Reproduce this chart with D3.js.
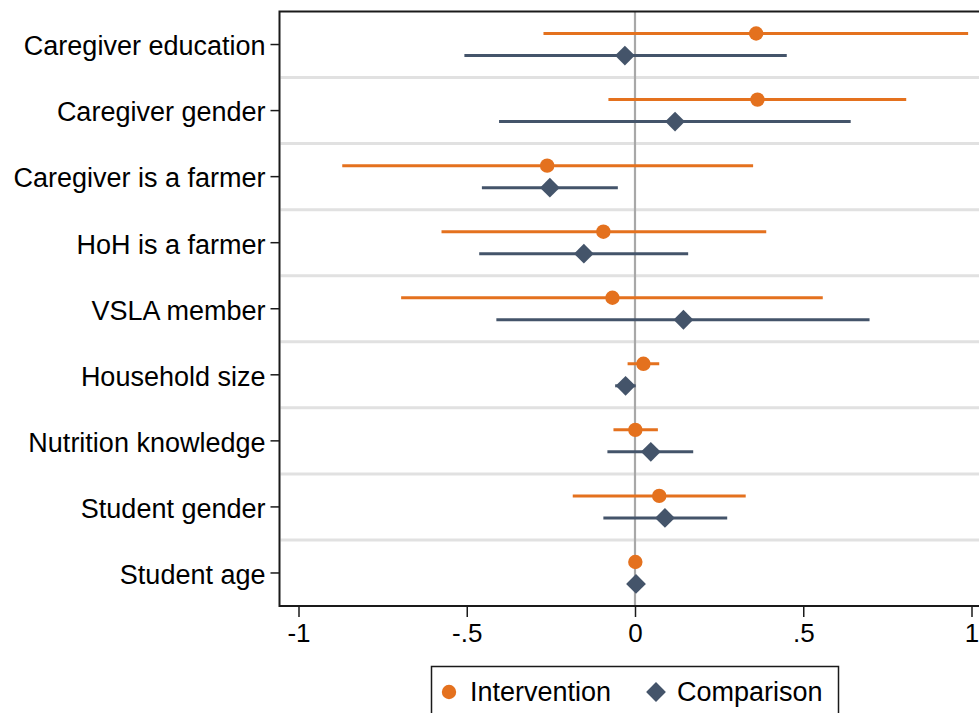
<!DOCTYPE html>
<html>
<head>
<meta charset="utf-8">
<script src="https://cdn.jsdelivr.net/npm/d3@7"></script>
<style>
  html, body { margin: 0; padding: 0; background: #fff; }
  svg { display: block; font-family: "Liberation Sans", Arial, sans-serif; }
</style>
</head>
<body>
<svg id="chart" width="979" height="713"></svg>
<script>
// Covariates, top to bottom
const categories = [
  "Caregiver education", "Caregiver gender", "Caregiver is a farmer",
  "HoH is a farmer", "VSLA member", "Household size",
  "Nutrition knowledge", "Student gender", "Student age"
];

// Intervention group: coefficient and 95% CI bounds
const interventionEst  = [0.360, 0.364, -0.261, -0.094, -0.067, 0.025, 0.001, 0.072, 0.001];
const interventionLow  = [-0.272, -0.079, -0.870, -0.575, -0.695, -0.022, -0.064, -0.185, -0.001];
const interventionHigh = [0.990, 0.806, 0.351, 0.390, 0.558, 0.072, 0.068, 0.329, 0.003];

// Comparison group: coefficient and 95% CI bounds
const comparisonEst  = [-0.030, 0.119, -0.253, -0.152, 0.144, -0.028, 0.047, 0.089, 0.003];
const comparisonLow  = [-0.507, -0.404, -0.455, -0.463, -0.412, -0.059, -0.082, -0.094, 0.001];
const comparisonHigh = [0.451, 0.641, -0.051, 0.158, 0.697, 0.002, 0.173, 0.274, 0.005];

const xTicks = [-1, -0.5, 0, 0.5, 1];
const xTickLabels = ["-1", "-.5", "0", ".5", "1"];

const seriesNames = ["Intervention", "Comparison"];
const colors = { Intervention: "#e4711e", Comparison: "#44546a" };

const svg = d3.select("#chart");

const plot = { left: 279.5, top: 11.5, right: 995, bottom: 606 };

const x = d3.scaleLinear().domain([-1, 1]).range([298.5, 971.5]);
const y = d3.scaleBand().domain(categories).range([plot.top, plot.bottom]).paddingInner(0).paddingOuter(0);
const rowOffset = { Intervention: -11, Comparison: 11 };

// Band separators
svg.append("g").selectAll("line")
  .data(categories.slice(1))
  .join("line")
  .attr("x1", plot.left + 1).attr("x2", plot.right)
  .attr("y1", d => y(d)).attr("y2", d => y(d))
  .attr("stroke", "#e1e1e1").attr("stroke-width", 3);

// Reference line at zero
svg.append("line")
  .attr("x1", x(0)).attr("x2", x(0))
  .attr("y1", plot.top).attr("y2", plot.bottom)
  .attr("stroke", "#a8a8a8").attr("stroke-width", 2.2);

// Build tidy rows for drawing
const rows = [];
categories.forEach((c, i) => {
  rows.push({ cat: c, s: "Intervention", est: interventionEst[i], lo: interventionLow[i], hi: interventionHigh[i] });
  rows.push({ cat: c, s: "Comparison", est: comparisonEst[i], lo: comparisonLow[i], hi: comparisonHigh[i] });
});
const cy = d => y(d.cat) + y.bandwidth() / 2 + rowOffset[d.s];

// Confidence intervals
svg.append("g").selectAll("line")
  .data(rows)
  .join("line")
  .attr("x1", d => x(d.lo)).attr("x2", d => x(d.hi))
  .attr("y1", cy).attr("y2", cy)
  .attr("stroke", d => colors[d.s]).attr("stroke-width", 3);

// Point estimates
const circleSym = d3.symbol().type(d3.symbolCircle).size(Math.PI * 7.2 * 7.2);
const diamondSym = d3.symbol().type(d3.symbolSquare).size(14 * 14);
svg.append("g").selectAll("path")
  .data(rows)
  .join("path")
  .attr("d", d => d.s === "Intervention" ? circleSym() : diamondSym())
  .attr("transform", d => d.s === "Intervention"
    ? `translate(${x(d.est)},${cy(d)})`
    : `translate(${x(d.est)},${cy(d)}) rotate(45)`)
  .attr("fill", d => colors[d.s]);

// Frame
svg.append("rect")
  .attr("x", plot.left).attr("y", plot.top)
  .attr("width", plot.right - plot.left).attr("height", plot.bottom - plot.top)
  .attr("fill", "none").attr("stroke", "#1a1a1a").attr("stroke-width", 2);

// X axis
const xAxis = d3.axisBottom(x)
  .tickValues(xTicks)
  .tickFormat((d, i) => xTickLabels[i])
  .tickSize(11).tickPadding(7);
const gx = svg.append("g").attr("transform", `translate(0,${plot.bottom})`).call(xAxis);
gx.select(".domain").remove();
gx.selectAll(".tick line").attr("stroke", "#1a1a1a").attr("stroke-width", 1.5);
gx.selectAll(".tick text").attr("fill", "#000").attr("font-size", 26)
  .attr("font-family", "Liberation Sans, Arial, sans-serif");

// Y axis
const yAxis = d3.axisLeft(y).tickSize(9).tickPadding(5);
const gy = svg.append("g").attr("transform", `translate(${plot.left},0)`).call(yAxis);
gy.select(".domain").remove();
gy.selectAll(".tick line").attr("stroke", "#1a1a1a").attr("stroke-width", 1.5);
gy.selectAll(".tick text").attr("fill", "#000").attr("font-size", 27).attr("dy", "0.4em")
  .attr("font-family", "Liberation Sans, Arial, sans-serif");

// Legend
const legend = svg.append("g");
legend.append("rect")
  .attr("x", 431.5).attr("y", 666.5).attr("width", 407).attr("height", 60)
  .attr("fill", "#fff").attr("stroke", "#1a1a1a").attr("stroke-width", 1.5);
const legendItems = [
  { s: seriesNames[0], mx: 449, tx: 470 },
  { s: seriesNames[1], mx: 656, tx: 677 }
];
legendItems.forEach(it => {
  legend.append("path")
    .attr("d", it.s === "Intervention" ? circleSym() : diamondSym())
    .attr("transform", it.s === "Intervention"
      ? `translate(${it.mx},692)` : `translate(${it.mx},692) rotate(45)`)
    .attr("fill", colors[it.s]);
  legend.append("text")
    .attr("x", it.tx).attr("y", 692).attr("dy", "0.35em")
    .attr("font-size", 27).attr("fill", "#000")
    .text(it.s);
});
</script>
</body>
</html>
